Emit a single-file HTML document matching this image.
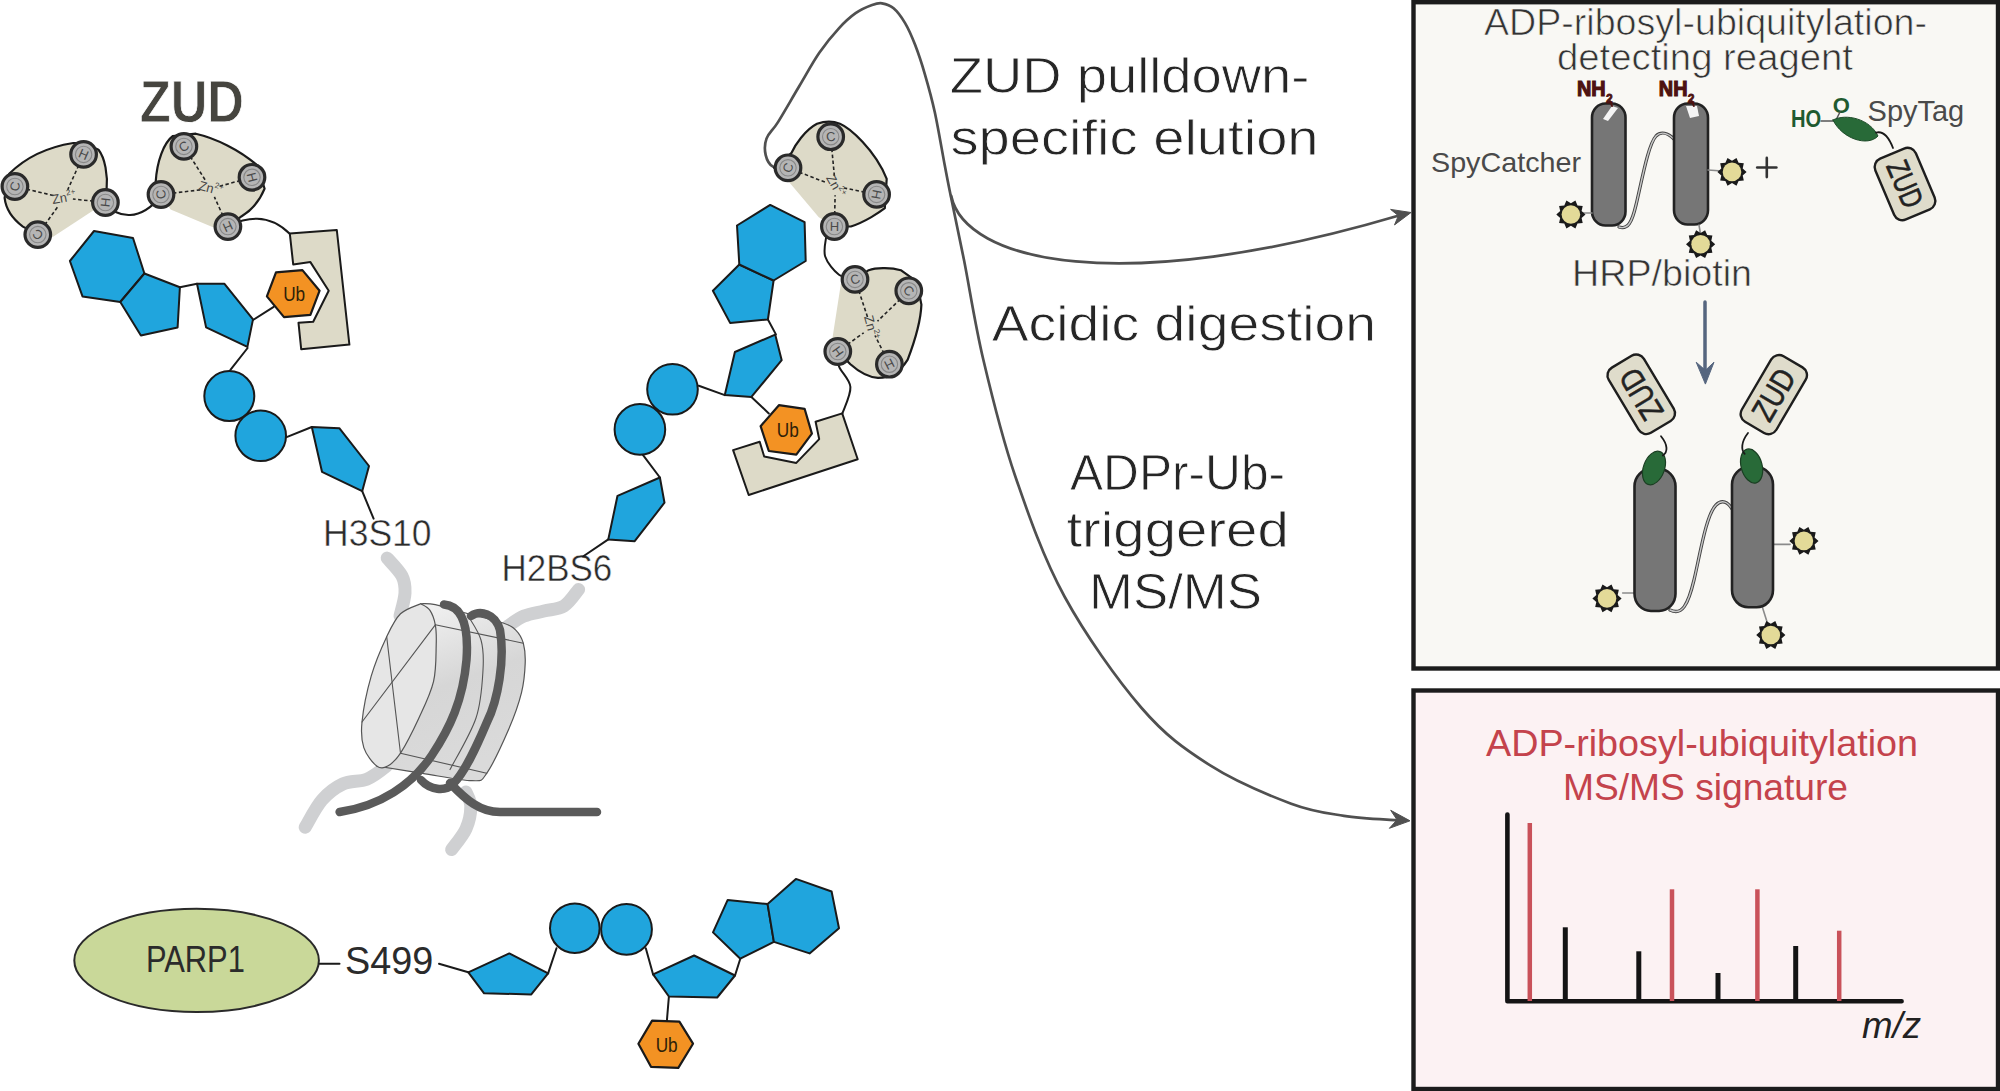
<!DOCTYPE html>
<html><head><meta charset="utf-8"><style>
html,body{margin:0;padding:0;background:#fff;width:2000px;height:1091px;overflow:hidden;}
svg{display:block;font-family:"Liberation Sans",sans-serif;}
</style></head><body>
<svg width="2000" height="1091" viewBox="0 0 2000 1091">
<rect x="0" y="0" width="2000" height="1091" fill="#ffffff"/>
<text x="139.7" y="121.7" font-size="58.6" fill="#46453f" font-weight="bold" text-anchor="start" textLength="104.3" lengthAdjust="spacingAndGlyphs" stroke="#fff" stroke-width="0.8"  >ZUD</text>
<path d="M105.4,204 C118,218 140,222 161,196" fill="none" stroke="#1a1a1a" stroke-width="2" stroke-linecap="round" stroke-linejoin="round" />
<path d="M228,226 C245,218 268,212 290,234" fill="none" stroke="#1a1a1a" stroke-width="2" stroke-linecap="round" stroke-linejoin="round" />
<path d="M37.8,234.6 L22.9,226.6 C14,220 6,210 4.6,197.9 L9.2,173.8 C25,158 48,147 73.3,143 L83.6,143 L98.5,149.8 C105,158 108,175 106.6,190 L105.4,202.5 L52.7,236.9 Z" fill="#dddac8" stroke="none" stroke-width="0" stroke-linecap="round" stroke-linejoin="round" />
<path d="M37.8,234.6 L22.9,226.6 C14,220 6,210 4.6,197.9 L9.2,173.8 C25,158 48,147 73.3,143 L83.6,143 L98.5,149.8 C105,158 108,175 106.6,190 L105.4,202.5" fill="none" stroke="#1a1a1a" stroke-width="2.2" stroke-linecap="round" stroke-linejoin="round" />
<line x1="26.6" y1="189.2" x2="55.2" y2="195.9" stroke="#222" stroke-width="1.6" stroke-dasharray="3.5 2.5"/>
<line x1="78.7" y1="165.3" x2="67.7" y2="189.8" stroke="#222" stroke-width="1.6" stroke-dasharray="3.5 2.5"/>
<line x1="93.5" y1="201.2" x2="72.9" y2="199.0" stroke="#222" stroke-width="1.6" stroke-dasharray="3.5 2.5"/>
<line x1="44.8" y1="224.8" x2="58.8" y2="205.3" stroke="#222" stroke-width="1.6" stroke-dasharray="3.5 2.5"/>
<text x="64" y="202" font-size="13" fill="#444" text-anchor="middle" transform="rotate(-10 64 198)">Zn<tspan font-size="8" dy="-6">2+</tspan></text>
<circle cx="14.9" cy="186.5" r="12.8" fill="#b5b5b5" stroke="#2a2a2a" stroke-width="3.2"/>
<circle cx="14.9" cy="186.5" r="8.2" fill="none" stroke="#888" stroke-width="1.1"/>
<text x="14.9" y="191.0" font-size="13" fill="#4a4a4a" text-anchor="middle" transform="rotate(-77 14.9 186.5)">C</text>
<circle cx="83.6" cy="154.4" r="12.8" fill="#b5b5b5" stroke="#2a2a2a" stroke-width="3.2"/>
<circle cx="83.6" cy="154.4" r="8.2" fill="none" stroke="#888" stroke-width="1.1"/>
<text x="83.6" y="158.9" font-size="13" fill="#4a4a4a" text-anchor="middle" transform="rotate(24 83.6 154.4)">H</text>
<circle cx="105.4" cy="202.5" r="12.8" fill="#b5b5b5" stroke="#2a2a2a" stroke-width="3.2"/>
<circle cx="105.4" cy="202.5" r="8.2" fill="none" stroke="#888" stroke-width="1.1"/>
<text x="105.4" y="207.0" font-size="13" fill="#4a4a4a" text-anchor="middle" transform="rotate(96 105.4 202.5)">H</text>
<circle cx="37.8" cy="234.6" r="12.8" fill="#b5b5b5" stroke="#2a2a2a" stroke-width="3.2"/>
<circle cx="37.8" cy="234.6" r="8.2" fill="none" stroke="#888" stroke-width="1.1"/>
<text x="37.8" y="239.1" font-size="13" fill="#4a4a4a" text-anchor="middle" transform="rotate(-144 37.8 234.6)">C</text>
<path d="M161,194.5 L155.7,181.9 C156.9,161.2 163.7,142.9 172.9,136 L195.8,133.7 C215,138 240,150 257.7,165.8 L264.6,188.7 C260,200 252,210 241.7,216.2 L227.9,226.6 L214.2,227.7 L170.6,209.4 Z" fill="#dddac8" stroke="none" stroke-width="0" stroke-linecap="round" stroke-linejoin="round" />
<path d="M161,194.5 L155.7,181.9 C156.9,161.2 163.7,142.9 172.9,136 L195.8,133.7 C215,138 240,150 257.7,165.8 L264.6,188.7 C260,200 252,210 241.7,216.2 L227.9,226.6" fill="none" stroke="#1a1a1a" stroke-width="2.2" stroke-linecap="round" stroke-linejoin="round" />
<line x1="190.3" y1="156.5" x2="205.9" y2="181.1" stroke="#222" stroke-width="1.6" stroke-dasharray="3.5 2.5"/>
<line x1="240.4" y1="180.5" x2="219.4" y2="186.3" stroke="#222" stroke-width="1.6" stroke-dasharray="3.5 2.5"/>
<line x1="172.9" y1="193.1" x2="201.8" y2="189.7" stroke="#222" stroke-width="1.6" stroke-dasharray="3.5 2.5"/>
<line x1="222.9" y1="215.7" x2="214.4" y2="196.9" stroke="#222" stroke-width="1.6" stroke-dasharray="3.5 2.5"/>
<text x="210.7" y="192.7" font-size="13" fill="#444" text-anchor="middle" transform="rotate(15 210.7 188.7)">Zn<tspan font-size="8" dy="-6">2+</tspan></text>
<circle cx="183.9" cy="146.4" r="12.8" fill="#b5b5b5" stroke="#2a2a2a" stroke-width="3.2"/>
<circle cx="183.9" cy="146.4" r="8.2" fill="none" stroke="#888" stroke-width="1.1"/>
<text x="183.9" y="150.9" font-size="13" fill="#4a4a4a" text-anchor="middle" transform="rotate(-32 183.9 146.4)">C</text>
<circle cx="252.0" cy="177.3" r="12.8" fill="#b5b5b5" stroke="#2a2a2a" stroke-width="3.2"/>
<circle cx="252.0" cy="177.3" r="8.2" fill="none" stroke="#888" stroke-width="1.1"/>
<text x="252" y="181.8" font-size="13" fill="#4a4a4a" text-anchor="middle" transform="rotate(75 252 177.3)">H</text>
<circle cx="161.0" cy="194.5" r="12.8" fill="#b5b5b5" stroke="#2a2a2a" stroke-width="3.2"/>
<circle cx="161.0" cy="194.5" r="8.2" fill="none" stroke="#888" stroke-width="1.1"/>
<text x="161" y="199.0" font-size="13" fill="#4a4a4a" text-anchor="middle" transform="rotate(-97 161 194.5)">C</text>
<circle cx="227.9" cy="226.6" r="12.8" fill="#b5b5b5" stroke="#2a2a2a" stroke-width="3.2"/>
<circle cx="227.9" cy="226.6" r="8.2" fill="none" stroke="#888" stroke-width="1.1"/>
<text x="227.9" y="231.1" font-size="13" fill="#4a4a4a" text-anchor="middle" transform="rotate(156 227.9 226.6)">H</text>
<polygon points="289.8,233.4 336.8,230.0 349.4,344.6 301.2,349.2 298.5,322.8 313.2,321.7 328.7,290.7 310.4,262.1 293.2,264.4" fill="#dddac8" stroke="#1a1a1a" stroke-width="2" stroke-linejoin="round" />
<polygon points="94.0,231.0 133.0,238.0 144.4,273.5 120.3,302.0 82.5,296.4 69.9,261.0" fill="#20a5dd" stroke="#1a1a1a" stroke-width="2" stroke-linejoin="round" />
<polygon points="144.4,273.5 179.9,287.3 177.6,327.4 140.9,335.4 120.3,302.0" fill="#20a5dd" stroke="#1a1a1a" stroke-width="2" stroke-linejoin="round" />
<polyline points="179.9,287.3 197.0,283.8" fill="none" stroke="#1a1a1a" stroke-width="2" stroke-linecap="round" stroke-linejoin="round" />
<polyline points="253.0,320.0 273.7,306.8" fill="none" stroke="#1a1a1a" stroke-width="2" stroke-linecap="round" stroke-linejoin="round" />
<polygon points="197.0,283.8 224.5,283.8 253.0,319.4 247.4,346.9 206.1,327.4" fill="#20a5dd" stroke="#1a1a1a" stroke-width="2" stroke-linejoin="round" />
<polygon points="276.0,272.4 302.4,270.1 319.6,290.7 310.4,314.8 284.0,317.1 266.9,296.4" fill="#f39223" stroke="#1a1a1a" stroke-width="2.2" stroke-linejoin="round" />
<text x="294.2" y="300.8" font-size="21" fill="#2e2108" font-weight="normal" text-anchor="middle" textLength="22" lengthAdjust="spacingAndGlyphs"  >Ub</text>
<polyline points="247.6,348.0 230.4,369.8" fill="none" stroke="#1a1a1a" stroke-width="2" stroke-linecap="round" stroke-linejoin="round" />
<circle cx="229.3" cy="396.1" r="25" fill="#20a5dd" stroke="#1a1a1a" stroke-width="2"/>
<circle cx="260.7" cy="435.8" r="25.3" fill="#20a5dd" stroke="#1a1a1a" stroke-width="2"/>
<polyline points="286.0,437.4 311.8,427.0" fill="none" stroke="#1a1a1a" stroke-width="2" stroke-linecap="round" stroke-linejoin="round" />
<polygon points="311.8,427.0 339.3,428.2 369.0,466.0 362.2,491.2 322.0,471.8" fill="#20a5dd" stroke="#1a1a1a" stroke-width="2" stroke-linejoin="round" />
<polyline points="362.2,491.2 373.6,518.7" fill="none" stroke="#1a1a1a" stroke-width="2" stroke-linecap="round" stroke-linejoin="round" />
<text x="323" y="545.6" font-size="37" fill="#2b2b2b" font-weight="normal" text-anchor="start" textLength="108.6" lengthAdjust="spacingAndGlyphs" stroke="#fff" stroke-width="0.5"  >H3S10</text>
<text x="501.5" y="580.5" font-size="36" fill="#2b2b2b" font-weight="normal" text-anchor="start" textLength="110.8" lengthAdjust="spacingAndGlyphs" stroke="#fff" stroke-width="0.5"  >H2BS6</text>
<path d="M387.2,558.1 C389.7,561.1 399.0,570.2 402.0,576.0 C405.0,581.8 405.3,586.3 405.0,593.0 C404.7,599.7 400.8,612.2 400.0,616.0" fill="none" stroke="#cfd0d2" stroke-width="13" stroke-linecap="round" stroke-linejoin="round" />
<path d="M578.6,589.5 C576.2,592.2 569.8,602.4 564.0,606.0 C558.2,609.6 550.7,609.3 544.0,611.0 C537.3,612.7 530.0,613.5 524.0,616.0 C518.0,618.5 510.7,624.3 508.0,626.0" fill="none" stroke="#cfd0d2" stroke-width="13" stroke-linecap="round" stroke-linejoin="round" />
<path d="M305.2,827.2 C308.0,822.7 315.7,807.2 322.0,800.0 C328.3,792.8 335.3,787.5 342.8,784.0 C350.3,780.5 359.6,782.1 366.8,779.2 C374.0,776.3 381.5,770.1 386.0,766.4 C390.5,762.7 392.7,758.6 394.0,757.0" fill="none" stroke="#cfd0d2" stroke-width="13" stroke-linecap="round" stroke-linejoin="round" />
<path d="M451.6,849.6 C454.0,846.1 462.8,836.0 466.0,828.8 C469.2,821.6 470.8,812.5 470.8,806.4 C470.8,800.3 466.8,794.4 466.0,792.0" fill="none" stroke="#cfd0d2" stroke-width="13" stroke-linecap="round" stroke-linejoin="round" />
<defs><linearGradient id="dg" x1="0" y1="0" x2="0.3" y2="1"><stop offset="0" stop-color="#f7f7f7"/><stop offset="0.55" stop-color="#d6d6d6"/><stop offset="1" stop-color="#dadada"/></linearGradient></defs>
<path d="M420.7,603.7 C423.1,603.9 427.4,603.0 435.3,604.7 C443.2,606.4 457.0,610.8 468.3,613.8 C479.6,616.8 495.2,620.2 503.2,623.0 C511.1,625.8 512.6,626.9 516.0,630.3 C519.4,633.7 521.8,637.7 523.3,643.2 C524.8,648.7 525.5,655.0 525.2,663.3 C524.9,671.5 524.2,681.7 521.5,692.7 C518.8,703.7 514.5,715.9 508.7,729.3 C502.9,742.7 492.8,764.7 486.7,773.3 C480.6,781.9 482.7,780.7 472.0,780.7 C461.3,780.7 438.4,775.8 422.5,773.3 C406.6,770.8 384.3,767.2 376.7,766.0 Z" fill="url(#dg)" stroke="#555" stroke-width="1.2" stroke-linecap="round" stroke-linejoin="round" />
<path d="M420.7,603.7 C417.3,605.4 406.2,608.3 400.5,613.8 C394.8,619.3 391.6,626.3 386.7,636.7 C381.8,647.1 375.3,662.0 371.2,676.2 C367.1,690.4 363.2,710.1 362.0,722.0 C360.8,733.9 361.4,740.3 363.8,747.6 C366.2,754.9 372.7,762.9 376.7,766.0 C380.7,769.1 383.7,768.1 387.7,766.0 C391.7,763.9 395.3,761.2 400.5,753.2 C405.7,745.2 413.3,730.2 418.8,718.3 C424.3,706.4 430.6,693.9 433.5,681.7 C436.4,669.5 435.9,654.5 436.2,645.0 C436.5,635.5 436.4,630.6 435.3,624.8 C434.2,619.0 432.2,613.7 429.8,610.2 C427.4,606.7 422.2,604.8 420.7,603.7 Z" fill="#e6e6e6" stroke="#555" stroke-width="1.2" stroke-linecap="round" stroke-linejoin="round" />
<path d="M386.7,636.7 C387.6,644.2 389.7,662.3 392.0,681.7 C394.3,701.1 399.1,741.3 400.5,753.2" fill="none" stroke="#555" stroke-width="1.1" stroke-linecap="round" stroke-linejoin="round" />
<path d="M435.3,624.8 L362,722" fill="none" stroke="#555" stroke-width="1.1" stroke-linecap="round" stroke-linejoin="round" />
<path d="M435.3,624.8 L523.3,643.2" fill="none" stroke="#555" stroke-width="1.1" stroke-linecap="round" stroke-linejoin="round" />
<path d="M468.0,615.7 C470.2,619.8 478.5,631.0 481.0,640.0 C483.5,649.0 483.8,657.0 483.0,670.0 C482.2,683.0 481.5,701.4 476.0,718.0 C470.5,734.6 454.3,761.0 450.0,769.6" fill="none" stroke="#555" stroke-width="1.1" stroke-linecap="round" stroke-linejoin="round" />
<path d="M400.5,753.2 L486.7,773.3" fill="none" stroke="#555" stroke-width="1.1" stroke-linecap="round" stroke-linejoin="round" />
<path d="M471,616 C480,610 495,613 500,630 C505,660 498,700 487,722 C476,748 465,772 453,784 C445,792 430,790 421,780" fill="none" stroke="#5a5a5a" stroke-width="8.5" stroke-linecap="round" stroke-linejoin="round" />
<path d="M450,783 C466,800 480,812 500,812 L597,812" fill="none" stroke="#5a5a5a" stroke-width="8.5" stroke-linecap="round" stroke-linejoin="round" />
<path d="M339.6,812 C380,806 412,785 432,755 C450,728 463,700 466.5,660 C469,625 462,606 444,604.5" fill="none" stroke="#5a5a5a" stroke-width="8.5" stroke-linecap="round" stroke-linejoin="round" />
<polyline points="583.0,556.5 608.3,539.4" fill="none" stroke="#1a1a1a" stroke-width="2" stroke-linecap="round" stroke-linejoin="round" />
<polyline points="659.9,477.5 642.7,454.6" fill="none" stroke="#1a1a1a" stroke-width="2" stroke-linecap="round" stroke-linejoin="round" />
<polyline points="698.8,385.8 724.8,395.1" fill="none" stroke="#1a1a1a" stroke-width="2" stroke-linecap="round" stroke-linejoin="round" />
<polyline points="751.4,396.9 768.8,413.4" fill="none" stroke="#1a1a1a" stroke-width="2" stroke-linecap="round" stroke-linejoin="round" />
<polyline points="775.9,334.4 767.9,319.5" fill="none" stroke="#1a1a1a" stroke-width="2" stroke-linecap="round" stroke-linejoin="round" />
<polygon points="608.3,539.4 634.7,541.2 664.5,502.7 659.9,477.5 617.5,495.8" fill="#20a5dd" stroke="#1a1a1a" stroke-width="2" stroke-linejoin="round" />
<circle cx="639.9" cy="429.4" r="25.3" fill="#20a5dd" stroke="#1a1a1a" stroke-width="2"/>
<circle cx="672.5" cy="389.3" r="25.3" fill="#20a5dd" stroke="#1a1a1a" stroke-width="2"/>
<polygon points="724.8,395.1 751.4,396.9 781.7,360.2 775.2,334.6 734.9,352.0" fill="#20a5dd" stroke="#1a1a1a" stroke-width="2" stroke-linejoin="round" />
<polygon points="739.3,264.5 773.6,280.5 767.9,319.5 730.1,322.9 712.9,290.8" fill="#20a5dd" stroke="#1a1a1a" stroke-width="2" stroke-linejoin="round" />
<polygon points="770.2,204.9 804.6,222.1 805.7,261.0 773.6,280.5 739.3,264.5 737.0,225.5" fill="#20a5dd" stroke="#1a1a1a" stroke-width="2" stroke-linejoin="round" />
<path d="M826.3,236.0 C826.1,239.4 823.1,250.0 825.2,256.5 C827.3,263.0 834.0,271.0 839.0,274.8 C844.0,278.6 852.3,278.6 855.0,279.4" fill="none" stroke="#1a1a1a" stroke-width="2" stroke-linecap="round" stroke-linejoin="round" />
<path d="M838.0,351.5 C838.2,354.0 836.9,360.5 839.0,366.4 C841.1,372.3 849.8,379.2 850.4,387.0 C851.0,394.8 843.7,409.0 842.4,413.4" fill="none" stroke="#1a1a1a" stroke-width="2" stroke-linecap="round" stroke-linejoin="round" />
<path d="M788.0,167.8 C785.5,167.6 776.7,168.8 773.0,166.7 C769.3,164.6 766.8,159.8 765.7,155.1 C764.6,150.4 764.5,144.1 766.5,138.6 C768.5,133.1 772.5,130.9 778.0,122.1 C783.5,113.3 792.6,97.3 799.5,85.8 C806.4,74.2 812.7,62.4 819.3,52.8 C825.9,43.2 833.0,34.7 839.1,28.1 C845.2,21.5 850.1,17.1 855.6,13.2 C861.1,9.3 867.7,6.6 872.1,5.0 C876.5,3.4 878.4,2.7 882.0,3.3 C885.6,3.9 889.8,5.0 893.6,8.3 C897.5,11.6 901.5,17.1 905.1,23.1 C908.7,29.2 911.7,36.1 915.0,44.6 C918.3,53.1 921.6,63.0 924.9,74.3 C928.2,85.6 931.5,97.1 934.8,112.2 C938.1,127.3 942.2,151.9 944.7,165.0 C947.2,178.1 946.5,174.9 949.7,190.7 C952.9,206.5 958.4,231.8 964.0,260.0 C969.6,288.2 974.9,324.1 983.4,360.0 C991.9,395.9 1001.5,436.1 1015.0,475.5 C1028.5,514.9 1043.4,557.8 1064.5,596.5 C1085.6,635.2 1117.4,679.9 1141.6,708.0 C1165.8,736.1 1184.9,749.2 1209.8,765.2 C1234.7,781.2 1268.8,795.3 1291.2,803.7 C1313.6,812.1 1326.5,813.0 1344.0,815.8 C1361.5,818.5 1387.3,819.5 1396.0,820.2" fill="none" stroke="#505050" stroke-width="2.7" stroke-linecap="round" stroke-linejoin="round" />
<path d="M951.2,195.9 C965,262 1120,298 1399,215.5" fill="none" stroke="#505050" stroke-width="2.7" stroke-linecap="round" stroke-linejoin="round" />
<polygon points="1411.0,212.5 1394.5,224.9 1398.4,215.7 1390.6,209.4" fill="#505050" stroke="#505050" stroke-width="1" stroke-linejoin="round"/>
<polygon points="1410.0,820.8 1389.4,828.3 1397.0,819.8 1390.7,810.3" fill="#505050" stroke="#505050" stroke-width="1" stroke-linejoin="round"/>
<path d="M774,167.8 L791.3,153.2 C795,145 805,130 817,123.8 C825,121 833,121 839.9,123.8 C850,128 875,150 886.7,178.8 L884.8,208.2 C880,212 865,222 850.9,226.5 L834.4,226.5 L818.8,217.3 L788,180.7 Z" fill="#dddac8" stroke="none" stroke-width="0" stroke-linecap="round" stroke-linejoin="round" />
<path d="M774,167.8 L791.3,153.2 C795,145 805,130 817,123.8 C825,121 833,121 839.9,123.8 C850,128 875,150 886.7,178.8 L884.8,208.2 C880,212 865,222 850.9,226.5 L834.4,226.5" fill="none" stroke="#1a1a1a" stroke-width="2.2" stroke-linecap="round" stroke-linejoin="round" />
<line x1="831.8" y1="148.6" x2="834.5" y2="177.2" stroke="#222" stroke-width="1.6" stroke-dasharray="3.5 2.5"/>
<line x1="799.2" y1="172.2" x2="826.9" y2="182.9" stroke="#222" stroke-width="1.6" stroke-dasharray="3.5 2.5"/>
<line x1="864.8" y1="192.1" x2="844.1" y2="188.0" stroke="#222" stroke-width="1.6" stroke-dasharray="3.5 2.5"/>
<line x1="834.7" y1="214.5" x2="835.1" y2="195.2" stroke="#222" stroke-width="1.6" stroke-dasharray="3.5 2.5"/>
<text x="835.3" y="190.2" font-size="13" fill="#444" text-anchor="middle" transform="rotate(60 835.3 186.2)">Zn<tspan font-size="8" dy="-6">2+</tspan></text>
<circle cx="830.7" cy="136.7" r="12.8" fill="#b5b5b5" stroke="#2a2a2a" stroke-width="3.2"/>
<circle cx="830.7" cy="136.7" r="8.2" fill="none" stroke="#888" stroke-width="1.1"/>
<text x="830.7" y="141.2" font-size="13" fill="#4a4a4a" text-anchor="middle" transform="rotate(-5 830.7 136.7)">C</text>
<circle cx="788.0" cy="167.8" r="12.8" fill="#b5b5b5" stroke="#2a2a2a" stroke-width="3.2"/>
<circle cx="788.0" cy="167.8" r="8.2" fill="none" stroke="#888" stroke-width="1.1"/>
<text x="788" y="172.3" font-size="13" fill="#4a4a4a" text-anchor="middle" transform="rotate(-69 788 167.8)">C</text>
<circle cx="876.6" cy="194.4" r="12.8" fill="#b5b5b5" stroke="#2a2a2a" stroke-width="3.2"/>
<circle cx="876.6" cy="194.4" r="8.2" fill="none" stroke="#888" stroke-width="1.1"/>
<text x="876.6" y="198.9" font-size="13" fill="#4a4a4a" text-anchor="middle" transform="rotate(101 876.6 194.4)">H</text>
<circle cx="834.4" cy="226.5" r="12.8" fill="#b5b5b5" stroke="#2a2a2a" stroke-width="3.2"/>
<circle cx="834.4" cy="226.5" r="8.2" fill="none" stroke="#888" stroke-width="1.1"/>
<text x="834.4" y="231.0" font-size="13" fill="#4a4a4a" text-anchor="middle" transform="rotate(-179 834.4 226.5)">H</text>
<path d="M855,279.4 L868.7,270.2 C875,268 890,267 900.8,270.2 L916.9,281.7 L921.4,304.6 C921,315 919,330 907.7,359.6 C900,372 890,378 877.9,377.9 C868,377 858,371 850.4,364.2 L837.8,351.5 L832,341 L841.2,281.7 Z" fill="#dddac8" stroke="none" stroke-width="0" stroke-linecap="round" stroke-linejoin="round" />
<path d="M855,279.4 L868.7,270.2 C875,268 890,267 900.8,270.2 L916.9,281.7 L921.4,304.6 C921,315 919,330 907.7,359.6 C900,372 890,378 877.9,377.9 C868,377 858,371 850.4,364.2 L837.8,351.5" fill="none" stroke="#1a1a1a" stroke-width="2.2" stroke-linecap="round" stroke-linejoin="round" />
<line x1="858.8" y1="290.8" x2="868.2" y2="319.0" stroke="#222" stroke-width="1.6" stroke-dasharray="3.5 2.5"/>
<line x1="900.2" y1="299.2" x2="877.5" y2="321.2" stroke="#222" stroke-width="1.6" stroke-dasharray="3.5 2.5"/>
<line x1="847.5" y1="344.5" x2="863.7" y2="332.8" stroke="#222" stroke-width="1.6" stroke-dasharray="3.5 2.5"/>
<line x1="884.0" y1="353.5" x2="875.0" y2="335.5" stroke="#222" stroke-width="1.6" stroke-dasharray="3.5 2.5"/>
<text x="871" y="331.5" font-size="13" fill="#444" text-anchor="middle" transform="rotate(75 871 327.5)">Zn<tspan font-size="8" dy="-6">2+</tspan></text>
<circle cx="855.0" cy="279.4" r="12.8" fill="#b5b5b5" stroke="#2a2a2a" stroke-width="3.2"/>
<circle cx="855.0" cy="279.4" r="8.2" fill="none" stroke="#888" stroke-width="1.1"/>
<text x="855" y="283.9" font-size="13" fill="#4a4a4a" text-anchor="middle" transform="rotate(-18 855 279.4)">C</text>
<circle cx="908.8" cy="290.8" r="12.8" fill="#b5b5b5" stroke="#2a2a2a" stroke-width="3.2"/>
<circle cx="908.8" cy="290.8" r="8.2" fill="none" stroke="#888" stroke-width="1.1"/>
<text x="908.8" y="295.3" font-size="13" fill="#4a4a4a" text-anchor="middle" transform="rotate(46 908.8 290.8)">C</text>
<circle cx="837.8" cy="351.5" r="12.8" fill="#b5b5b5" stroke="#2a2a2a" stroke-width="3.2"/>
<circle cx="837.8" cy="351.5" r="8.2" fill="none" stroke="#888" stroke-width="1.1"/>
<text x="837.8" y="356.0" font-size="13" fill="#4a4a4a" text-anchor="middle" transform="rotate(-126 837.8 351.5)">H</text>
<circle cx="889.4" cy="364.2" r="12.8" fill="#b5b5b5" stroke="#2a2a2a" stroke-width="3.2"/>
<circle cx="889.4" cy="364.2" r="8.2" fill="none" stroke="#888" stroke-width="1.1"/>
<text x="889.4" y="368.7" font-size="13" fill="#4a4a4a" text-anchor="middle" transform="rotate(153 889.4 364.2)">H</text>
<polygon points="733.1,450.1 759.7,441.8 764.2,456.5 796.3,462.9 819.2,439.1 815.6,421.7 842.2,413.4 857.7,459.2 748.7,495.0" fill="#dddac8" stroke="#1a1a1a" stroke-width="2" stroke-linejoin="round" />
<polygon points="778.9,405.2 804.6,408.8 811.9,433.6 796.3,454.7 768.8,451.0 760.6,426.2" fill="#f39223" stroke="#1a1a1a" stroke-width="2.2" stroke-linejoin="round" />
<text x="787.8" y="437.3" font-size="21" fill="#2e2108" font-weight="normal" text-anchor="middle" textLength="22" lengthAdjust="spacingAndGlyphs"  >Ub</text>
<ellipse cx="196.6" cy="960.4" rx="122.3" ry="51.6" fill="#c9d899" stroke="#2a2a2a" stroke-width="2"/>
<text x="145.9" y="971.6" font-size="37" fill="#2b2b2b" font-weight="normal" text-anchor="start" textLength="99" lengthAdjust="spacingAndGlyphs"  >PARP1</text>
<polyline points="319.4,963.7 339.5,963.7" fill="none" stroke="#1a1a1a" stroke-width="2" stroke-linecap="round" stroke-linejoin="round" />
<text x="345" y="974.2" font-size="38.4" fill="#2b2b2b" font-weight="normal" text-anchor="start" textLength="88.4" lengthAdjust="spacingAndGlyphs"  >S499</text>
<polyline points="439.0,963.7 468.3,972.3" fill="none" stroke="#1a1a1a" stroke-width="2" stroke-linecap="round" stroke-linejoin="round" />
<polyline points="548.1,973.4 556.5,948.2" fill="none" stroke="#1a1a1a" stroke-width="2" stroke-linecap="round" stroke-linejoin="round" />
<polyline points="645.8,948.2 653.1,974.4" fill="none" stroke="#1a1a1a" stroke-width="2" stroke-linecap="round" stroke-linejoin="round" />
<polyline points="668.9,996.5 666.8,1021.7" fill="none" stroke="#1a1a1a" stroke-width="2" stroke-linecap="round" stroke-linejoin="round" />
<polyline points="735.0,975.5 740.3,958.7" fill="none" stroke="#1a1a1a" stroke-width="2" stroke-linecap="round" stroke-linejoin="round" />
<polygon points="468.3,972.3 509.3,953.4 548.1,973.4 531.3,994.4 484.1,993.3" fill="#20a5dd" stroke="#1a1a1a" stroke-width="2" stroke-linejoin="round" />
<circle cx="574.8" cy="928.2" r="24.8" fill="#20a5dd" stroke="#1a1a1a" stroke-width="2"/>
<circle cx="626.5" cy="929.3" r="25.4" fill="#20a5dd" stroke="#1a1a1a" stroke-width="2"/>
<polygon points="653.1,974.4 694.1,955.5 735.0,975.5 717.2,997.5 668.9,996.5" fill="#20a5dd" stroke="#1a1a1a" stroke-width="2" stroke-linejoin="round" />
<polygon points="740.3,958.7 713.0,932.4 727.7,899.9 767.6,904.1 773.9,941.9" fill="#20a5dd" stroke="#1a1a1a" stroke-width="2" stroke-linejoin="round" />
<polygon points="767.6,904.1 795.9,878.9 831.6,891.5 839.0,928.2 809.6,953.4 773.9,941.9" fill="#20a5dd" stroke="#1a1a1a" stroke-width="2" stroke-linejoin="round" />
<polygon points="652.1,1020.6 679.4,1021.7 693.0,1043.7 678.3,1067.9 651.0,1066.8 638.4,1043.7" fill="#f39223" stroke="#1a1a1a" stroke-width="2.2" stroke-linejoin="round" />
<text x="666.7" y="1051.5" font-size="21" fill="#2e2108" font-weight="normal" text-anchor="middle" textLength="22" lengthAdjust="spacingAndGlyphs"  >Ub</text>
<text x="949.8" y="93" font-size="50.4" fill="#262626" font-weight="normal" text-anchor="start" textLength="359.6" lengthAdjust="spacingAndGlyphs" stroke="#fff" stroke-width="0.8"  >ZUD pulldown-</text>
<text x="950.4" y="154.5" font-size="50.4" fill="#262626" font-weight="normal" text-anchor="start" textLength="368.2" lengthAdjust="spacingAndGlyphs" stroke="#fff" stroke-width="0.8"  >specific elution</text>
<text x="991.7" y="340.8" font-size="50.4" fill="#262626" font-weight="normal" text-anchor="start" textLength="384.3" lengthAdjust="spacingAndGlyphs" stroke="#fff" stroke-width="0.8"  >Acidic digestion</text>
<text x="1070" y="490" font-size="50.4" fill="#262626" font-weight="normal" text-anchor="start" textLength="215" lengthAdjust="spacingAndGlyphs" stroke="#fff" stroke-width="0.8"  >ADPr-Ub-</text>
<text x="1066.4" y="547.3" font-size="50.4" fill="#262626" font-weight="normal" text-anchor="start" textLength="222.4" lengthAdjust="spacingAndGlyphs" stroke="#fff" stroke-width="0.8"  >triggered</text>
<text x="1089" y="609.2" font-size="50.4" fill="#262626" font-weight="normal" text-anchor="start" textLength="173" lengthAdjust="spacingAndGlyphs" stroke="#fff" stroke-width="0.8"  >MS/MS</text>
<rect x="1413.5" y="2.2" width="584.5" height="666.3" fill="#f9f8f4" stroke="#1c1c1c" stroke-width="4.4"/>
<text x="1484" y="34.5" font-size="37.3" fill="#333" font-weight="normal" text-anchor="start" textLength="443" lengthAdjust="spacingAndGlyphs" stroke="#f9f8f4" stroke-width="0.7"  >ADP-ribosyl-ubiquitylation-</text>
<text x="1557" y="69.6" font-size="37" fill="#333" font-weight="normal" text-anchor="start" textLength="296" lengthAdjust="spacingAndGlyphs" stroke="#f9f8f4" stroke-width="0.7"  >detecting reagent</text>
<text x="1431" y="171.5" font-size="28" fill="#4a4a4a" font-weight="normal" text-anchor="start" textLength="150" lengthAdjust="spacingAndGlyphs"  >SpyCatcher</text>
<text x="1572" y="286.2" font-size="37" fill="#333" font-weight="normal" text-anchor="start" textLength="180" lengthAdjust="spacingAndGlyphs" stroke="#f9f8f4" stroke-width="0.6"  >HRP/biotin</text>
<text x="1867.6" y="121.4" font-size="28.8" fill="#4a4a4a" font-weight="normal" text-anchor="start" textLength="96.6" lengthAdjust="spacingAndGlyphs"  >SpyTag</text>
<path d="M1619,227 C1628,230 1632,222 1636,205 C1642,180 1648,145 1656,136 C1661,131 1668,133 1674,139" fill="none" stroke="#444" stroke-width="3.3" stroke-linecap="round" stroke-linejoin="round" />
<path d="M1619,227 C1628,230 1632,222 1636,205 C1642,180 1648,145 1656,136 C1661,131 1668,133 1674,139" fill="none" stroke="#c8c8c8" stroke-width="1.4" stroke-linecap="round" stroke-linejoin="round" />
<rect x="1592" y="103.5" width="33.5" height="122" rx="13.4" ry="14.07" fill="#767676" stroke="#222" stroke-width="2.6"/>
<rect x="1674" y="103.5" width="34" height="121" rx="13.600000000000001" ry="14.28" fill="#767676" stroke="#222" stroke-width="2.6"/>
<path d="M1603,119 L1612,106 L1618,108 L1608,121 Z" fill="#f4f4f4" stroke="none" stroke-width="0" stroke-linecap="round" stroke-linejoin="round" />
<path d="M1686,106 L1697,106 L1699,116 L1690,118 Z" fill="#f4f4f4" stroke="none" stroke-width="0" stroke-linecap="round" stroke-linejoin="round" />
<text x="1577" y="96.1" font-size="21.8" fill="#4e1210" font-weight="bold" text-anchor="start" textLength="28.7" lengthAdjust="spacingAndGlyphs" stroke="#4e1210" stroke-width="1.2"  >NH</text>
<text x="1606" y="103" font-size="12" fill="#4e1210" font-weight="bold" text-anchor="start" stroke="#4e1210" stroke-width="0.8"  >2</text>
<polyline points="1610.0,101.0 1612.0,106.0" fill="none" stroke="#4e1210" stroke-width="2" stroke-linecap="round" stroke-linejoin="round" />
<text x="1658.8" y="96.1" font-size="21.8" fill="#4e1210" font-weight="bold" text-anchor="start" textLength="28.7" lengthAdjust="spacingAndGlyphs" stroke="#4e1210" stroke-width="1.2"  >NH</text>
<text x="1687.8" y="103" font-size="12" fill="#4e1210" font-weight="bold" text-anchor="start" stroke="#4e1210" stroke-width="0.8"  >2</text>
<polyline points="1691.8,101.0 1693.8,106.0" fill="none" stroke="#4e1210" stroke-width="2" stroke-linecap="round" stroke-linejoin="round" />
<polyline points="1580.0,213.0 1592.0,213.0" fill="none" stroke="#8a8a8a" stroke-width="1.6" stroke-linecap="round" stroke-linejoin="round" />
<polyline points="1708.0,170.0 1722.0,171.0" fill="none" stroke="#8a8a8a" stroke-width="1.6" stroke-linecap="round" stroke-linejoin="round" />
<polyline points="1699.0,225.0 1700.5,234.0" fill="none" stroke="#8a8a8a" stroke-width="1.6" stroke-linecap="round" stroke-linejoin="round" />
<polygon points="1585.5,214.5 1581.6,218.0 1582.7,223.1 1577.5,223.6 1575.4,228.4 1570.9,225.7 1566.4,228.4 1564.3,223.6 1559.1,223.1 1560.2,218.0 1556.3,214.5 1560.2,211.0 1559.1,205.9 1564.3,205.4 1566.4,200.6 1570.9,203.3 1575.4,200.6 1577.5,205.4 1582.7,205.9 1581.6,211.0" fill="#1a1a1a"/>
<circle cx="1570.9" cy="214.5" r="9.3" fill="#e3da98" stroke="none" stroke-width="0"/>
<polygon points="1746.6,171.9 1742.7,175.4 1743.8,180.5 1738.6,181.0 1736.5,185.8 1732.0,183.1 1727.5,185.8 1725.4,181.0 1720.2,180.5 1721.3,175.4 1717.4,171.9 1721.3,168.4 1720.2,163.3 1725.4,162.8 1727.5,158.0 1732.0,160.7 1736.5,158.0 1738.6,162.8 1743.8,163.3 1742.7,168.4" fill="#1a1a1a"/>
<circle cx="1732.0" cy="171.9" r="9.3" fill="#e3da98" stroke="none" stroke-width="0"/>
<polygon points="1715.2,244.2 1711.3,247.7 1712.4,252.8 1707.2,253.3 1705.1,258.1 1700.6,255.4 1696.1,258.1 1694.0,253.3 1688.8,252.8 1689.9,247.7 1686.0,244.2 1689.9,240.7 1688.8,235.6 1694.0,235.1 1696.1,230.3 1700.6,233.0 1705.1,230.3 1707.2,235.1 1712.4,235.6 1711.3,240.7" fill="#1a1a1a"/>
<circle cx="1700.6" cy="244.2" r="9.3" fill="#e3da98" stroke="none" stroke-width="0"/>
<polyline points="1757.2,167.5 1776.4,167.5" fill="none" stroke="#333" stroke-width="2.6" stroke-linecap="round" stroke-linejoin="round" />
<polyline points="1766.8,157.9 1766.8,177.1" fill="none" stroke="#333" stroke-width="2.6" stroke-linecap="round" stroke-linejoin="round" />
<text x="1791" y="127.1" font-size="23" fill="#1f5a30" font-weight="bold" text-anchor="start" textLength="30.2" lengthAdjust="spacingAndGlyphs"  >HO</text>
<text x="1841.2" y="113" font-size="22" fill="#1f5a30" font-weight="bold" text-anchor="middle"  >O</text>
<polyline points="1821.0,121.0 1836.0,121.0" fill="none" stroke="#555" stroke-width="1.5" stroke-linecap="round" stroke-linejoin="round" />
<polyline points="1836.0,120.0 1840.0,112.0" fill="none" stroke="#555" stroke-width="1.5" stroke-linecap="round" stroke-linejoin="round" />
<path d="M1833,120 C1846,113 1870,119 1878,136 C1868,147 1842,139 1833,120 Z" fill="#286a38" stroke="#1d4a28" stroke-width="1" stroke-linecap="round" stroke-linejoin="round" />
<path d="M1876,132.6 C1882,131 1888,135 1893,148" fill="none" stroke="#1a1a1a" stroke-width="1.8" stroke-linecap="round" stroke-linejoin="round" />
<rect x="1872.0" y="162.0" width="66" height="44" rx="9" ry="9" transform="rotate(67 1905 184)" fill="#dfdccb" stroke="#1e1e1e" stroke-width="2.4"/>
<text x="1905" y="194.664" font-size="31" fill="#222" stroke="#222" stroke-width="0.6" text-anchor="middle" transform="rotate(67 1905 184)" textLength="48" lengthAdjust="spacingAndGlyphs">ZUD</text>
<polyline points="1705.0,302.0 1705.0,372.0" fill="none" stroke="#56667f" stroke-width="3.5" stroke-linecap="round" stroke-linejoin="round" />
<polygon points="1705.4,384.1 1696.2,362.2 1705.4,370.3 1714,362.2" fill="#56667f" stroke="#56667f" stroke-width="1" stroke-linejoin="round"/>
<path d="M1670,610 C1682,616 1688,605 1694,580 C1700,555 1706,515 1716,505 C1722,499 1728,502 1732,509" fill="none" stroke="#444" stroke-width="3.3" stroke-linecap="round" stroke-linejoin="round" />
<path d="M1670,610 C1682,616 1688,605 1694,580 C1700,555 1706,515 1716,505 C1722,499 1728,502 1732,509" fill="none" stroke="#c8c8c8" stroke-width="1.4" stroke-linecap="round" stroke-linejoin="round" />
<polyline points="1622.7,593.0 1634.0,593.0" fill="none" stroke="#8a8a8a" stroke-width="1.6" stroke-linecap="round" stroke-linejoin="round" />
<polyline points="1772.0,544.4 1790.0,544.4" fill="none" stroke="#8a8a8a" stroke-width="1.6" stroke-linecap="round" stroke-linejoin="round" />
<polyline points="1762.0,606.0 1767.3,622.7" fill="none" stroke="#8a8a8a" stroke-width="1.6" stroke-linecap="round" stroke-linejoin="round" />
<rect x="1634.5" y="469" width="41" height="142" rx="16.400000000000002" ry="17.22" fill="#767676" stroke="#222" stroke-width="2.6"/>
<rect x="1732" y="467.3" width="41" height="140" rx="16.400000000000002" ry="17.22" fill="#767676" stroke="#222" stroke-width="2.6"/>
<ellipse cx="1654" cy="468" rx="10.5" ry="17.4" transform="rotate(20 1654 468)" fill="#286a38" stroke="#1a3f22" stroke-width="1.2"/>
<ellipse cx="1751.6" cy="466" rx="10.5" ry="17.4" transform="rotate(-15 1751.6 466)" fill="#286a38" stroke="#1a3f22" stroke-width="1.2"/>
<path d="M1661,436.3 C1668,445 1668,452 1662.8,455.5" fill="none" stroke="#1a1a1a" stroke-width="1.8" stroke-linecap="round" stroke-linejoin="round" />
<path d="M1748,433 C1741,442 1741,450 1744.7,453.8" fill="none" stroke="#1a1a1a" stroke-width="1.8" stroke-linecap="round" stroke-linejoin="round" />
<rect x="1603.25" y="373.8" width="76" height="41" rx="9" ry="9" transform="rotate(59.1 1641.25 394.3)" fill="#dfdccb" stroke="#1e1e1e" stroke-width="2.4"/>
<text x="1641.25" y="405.308" font-size="32" fill="#222" stroke="#222" stroke-width="0.6" text-anchor="middle" transform="rotate(-120.9 1641.25 394.3)" textLength="54" lengthAdjust="spacingAndGlyphs">ZUD</text>
<rect x="1735.8" y="374.6" width="76" height="40" rx="9" ry="9" transform="rotate(-59.6 1773.8 394.6)" fill="#dfdccb" stroke="#1e1e1e" stroke-width="2.4"/>
<text x="1773.8" y="405.608" font-size="32" fill="#222" stroke="#222" stroke-width="0.6" text-anchor="middle" transform="rotate(-59.6 1773.8 394.6)" textLength="54" lengthAdjust="spacingAndGlyphs">ZUD</text>
<polygon points="1621.6,598.4 1617.7,601.9 1618.8,607.0 1613.6,607.5 1611.5,612.3 1607.0,609.6 1602.5,612.3 1600.4,607.5 1595.2,607.0 1596.3,601.9 1592.4,598.4 1596.3,594.9 1595.2,589.8 1600.4,589.3 1602.5,584.5 1607.0,587.2 1611.5,584.5 1613.6,589.3 1618.8,589.8 1617.7,594.9" fill="#1a1a1a"/>
<circle cx="1607.0" cy="598.4" r="9.3" fill="#e3da98" stroke="none" stroke-width="0"/>
<polygon points="1818.5,540.9 1814.6,544.4 1815.7,549.5 1810.5,550.0 1808.4,554.8 1803.9,552.1 1799.4,554.8 1797.3,550.0 1792.1,549.5 1793.2,544.4 1789.3,540.9 1793.2,537.4 1792.1,532.3 1797.3,531.8 1799.4,527.0 1803.9,529.7 1808.4,527.0 1810.5,531.8 1815.7,532.3 1814.6,537.4" fill="#1a1a1a"/>
<circle cx="1803.9" cy="540.9" r="9.3" fill="#e3da98" stroke="none" stroke-width="0"/>
<polygon points="1785.4,635.0 1781.5,638.5 1782.6,643.6 1777.4,644.1 1775.3,648.9 1770.8,646.2 1766.3,648.9 1764.2,644.1 1759.0,643.6 1760.1,638.5 1756.2,635.0 1760.1,631.5 1759.0,626.4 1764.2,625.9 1766.3,621.1 1770.8,623.8 1775.3,621.1 1777.4,625.9 1782.6,626.4 1781.5,631.5" fill="#1a1a1a"/>
<circle cx="1770.8" cy="635.0" r="9.3" fill="#e3da98" stroke="none" stroke-width="0"/>
<rect x="1413.5" y="690.5" width="584.5" height="398.5" fill="#fcf2f3" stroke="#1c1c1c" stroke-width="4.4"/>
<text x="1486" y="756" font-size="37.8" fill="#c4434c" font-weight="normal" text-anchor="start" textLength="432" lengthAdjust="spacingAndGlyphs"  >ADP-ribosyl-ubiquitylation</text>
<text x="1563" y="799.6" font-size="37.8" fill="#c4434c" font-weight="normal" text-anchor="start" textLength="285" lengthAdjust="spacingAndGlyphs"  >MS/MS signature</text>
<polyline points="1507.4,814.5 1507.4,1001.3 1901.6,1001.3" fill="none" stroke="#141414" stroke-width="4.6" stroke-linecap="round" stroke-linejoin="round" />
<line x1="1529.8" y1="823" x2="1529.8" y2="1001" stroke="#c9525a" stroke-width="4.5"/>
<line x1="1565.3" y1="927.3" x2="1565.3" y2="1001" stroke="#141414" stroke-width="5"/>
<line x1="1638.8" y1="951.3" x2="1638.8" y2="1001" stroke="#141414" stroke-width="5"/>
<line x1="1672" y1="889.3" x2="1672" y2="1001" stroke="#c9525a" stroke-width="4.5"/>
<line x1="1718" y1="973" x2="1718" y2="1001" stroke="#141414" stroke-width="5"/>
<line x1="1757.4" y1="889.3" x2="1757.4" y2="1001" stroke="#c9525a" stroke-width="4.5"/>
<line x1="1795.7" y1="946" x2="1795.7" y2="1001" stroke="#141414" stroke-width="5"/>
<line x1="1839.2" y1="930.7" x2="1839.2" y2="1001" stroke="#c9525a" stroke-width="4.5"/>
<text x="1862" y="1038" font-size="36.5" fill="#222" font-weight="normal" text-anchor="start" textLength="59" lengthAdjust="spacingAndGlyphs" font-style="italic" >m/z</text>
</svg></body></html>
